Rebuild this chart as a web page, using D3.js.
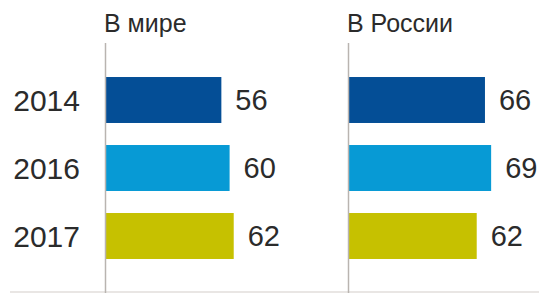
<!DOCTYPE html>
<html lang="ru">
<head>
<meta charset="utf-8">
<title>В мире / В России</title>
<script src="https://cdn.jsdelivr.net/npm/d3@7"></script>
<style>
  body { margin: 0; background: #fff; }
  svg text { font-family: "Liberation Sans", Arial, sans-serif; fill: #2b2b2b; }
</style>
</head>
<body>
<script>
// data
var years = ["2014", "2016", "2017"];
var panels = ["В мире", "В России"];
var worldValues = [56, 60, 62];
var russiaValues = [66, 69, 62];
var colors = ["#044e96", "#079ad5", "#c6c100"];

var w = 539, h = 293;

var svg = d3.select("body").append("svg")
    .attr("width", w)
    .attr("height", h);

// faint bottom rule
svg.append("line")
    .attr("x1", 10).attr("x2", w)
    .attr("y1", h - 1).attr("y2", h - 1)
    .attr("stroke", "#e2dedb").attr("stroke-width", 1.5);

var y = d3.scaleBand()
    .domain(years)
    .range([66, 270])
    .paddingInner(0.324)
    .paddingOuter(0.162);

var x = d3.scaleLinear()
    .domain([0, 100])
    .range([0, 206]);

// year labels
svg.selectAll(".year")
    .data(years)
    .enter().append("text")
    .attr("class", "year")
    .attr("x", 80)
    .attr("y", function(d) { return y(d) + y.bandwidth() / 2; })
    .attr("dy", "0.36em")
    .attr("text-anchor", "end")
    .attr("font-size", "30px")
    .text(function(d) { return d; });

function drawPanel(title, values, x0) {
    var g = svg.append("g").attr("transform", "translate(" + x0 + ",0)");

    g.append("text")
        .attr("x", -2)
        .attr("y", 32)
        .attr("font-size", "25px")
        .text(title);

    g.selectAll("rect")
        .data(values)
        .enter().append("rect")
        .attr("x", 0)
        .attr("y", function(d, i) { return y(years[i]); })
        .attr("width", function(d) { return x(d); })
        .attr("height", y.bandwidth())
        .attr("fill", function(d, i) { return colors[i]; });

    g.selectAll(".val")
        .data(values)
        .enter().append("text")
        .attr("class", "val")
        .attr("x", function(d) { return x(d) + 14; })
        .attr("y", function(d, i) { return y(years[i]) + y.bandwidth() / 2; })
        .attr("dy", "0.36em")
        .attr("font-size", "29px")
        .text(function(d) { return d; });

    // vertical axis line
    g.append("line")
        .attr("x1", -0.5).attr("x2", -0.5)
        .attr("y1", 43).attr("y2", h)
        .attr("stroke", "#b9b4b0").attr("stroke-width", 1.5);
}

drawPanel(panels[0], worldValues, 106);
drawPanel(panels[1], russiaValues, 349);
</script>
</body>
</html>
